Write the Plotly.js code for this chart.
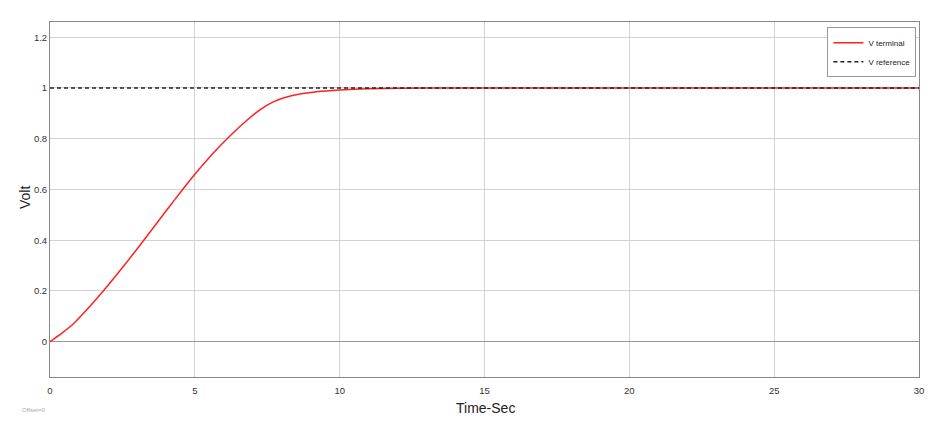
<!DOCTYPE html>
<html>
<head>
<meta charset="utf-8">
<script src="https://cdn.plot.ly/plotly-3.0.1.min.js"></script>
<style>html,body{margin:0;padding:0;background:#fff;}#chart{width:946px;height:433px;}</style>
</head>
<body>
<div id="chart"></div>
<script>
const timeSec = [0, 0.4, 0.8, 1.3, 1.84, 2.64, 3.33, 4.03, 4.6, 5.0, 5.64, 6.21, 6.79, 7.25, 7.71, 8.4, 9.2, 10.0, 11.0, 12.0, 14.0, 17.0, 20.0, 25.0, 30.0];
const vTerminal = [0, 0.033, 0.07, 0.13, 0.2, 0.312, 0.414, 0.519, 0.603, 0.66, 0.744, 0.811, 0.872, 0.914, 0.945, 0.971, 0.985, 0.992, 0.997, 0.999, 1.0, 1.0, 1.0, 1.0, 1.0];
const refTime = [0, 30];
const vReference = [1, 1];
const xTicks = [0, 5, 10, 15, 20, 25, 30];
const yTicks = [0, 0.2, 0.4, 0.6, 0.8, 1, 1.2];
const yTickLabels = ['0', '0.2', '0.4', '0.6', '0.8', '1', '1.2'];

const traces = [
  {x: timeSec, y: vTerminal, name: 'V terminal', type: 'scatter', mode: 'lines',
   line: {color: '#ff2020', width: 1.5, shape: 'spline', smoothing: 0.6}},
  {x: refTime, y: vReference, name: 'V reference', type: 'scatter', mode: 'lines',
   line: {color: '#222222', width: 1.5, dash: '4px,3px'}}
];

const W = 946, H = 433, L = 50, R = 27, T = 22, B = 56;
const pw = W - L - R, ph = H - T - B;
const px2x = p => (p - L) / pw;
const py2y = p => (H - B - p) / ph;

const layout = {
  width: W, height: H,
  margin: {l: L, r: R, t: T, b: B},
  paper_bgcolor: '#ffffff', plot_bgcolor: '#ffffff',
  font: {family: 'Liberation Sans, Arial, sans-serif', color: '#333'},
  showlegend: true,
  legend: {x: 0.997, y: 0.985, xanchor: 'right', yanchor: 'top',
    bgcolor: '#ffffff', bordercolor: '#999', borderwidth: 1,
    font: {size: 8, color: '#222'}, tracegroupgap: 0, itemwidth: 30},
  xaxis: {range: [0, 30], tickvals: xTicks, ticktext: xTicks.map(String),
    showgrid: true, gridcolor: '#d2d2d2', gridwidth: 1,
    zeroline: false, showline: true, linecolor: '#888', linewidth: 1, mirror: true,
    ticks: '', ticklabelstandoff: 5, tickfont: {size: 9.5, color: '#333'}},
  yaxis: {range: [-0.139, 1.26], tickvals: yTicks, ticktext: yTickLabels,
    showgrid: true, gridcolor: '#d2d2d2', gridwidth: 1,
    zeroline: true, zerolinecolor: '#999', zerolinewidth: 1,
    showline: true, linecolor: '#888', linewidth: 1, mirror: true,
    ticks: '', tickfont: {size: 9.5, color: '#333'}},
  annotations: [
    {text: 'Offset=0', x: px2x(33), y: py2y(410), xref: 'paper', yref: 'paper', showarrow: false,
     xanchor: 'center', yanchor: 'middle', font: {size: 6, color: '#aaa'}},
    {text: 'Volt', x: px2x(25), y: py2y(198), xref: 'paper', yref: 'paper', showarrow: false,
     textangle: -90, xanchor: 'center', yanchor: 'middle', font: {size: 14, color: '#222'}},
    {text: 'Time-Sec', x: px2x(485), y: py2y(408), xref: 'paper', yref: 'paper', showarrow: false,
     xanchor: 'center', yanchor: 'middle', font: {size: 14, color: '#222'}}
  ]
};

Plotly.newPlot('chart', traces, layout, {displayModeBar: false, staticPlot: true});
</script>
</body>
</html>
